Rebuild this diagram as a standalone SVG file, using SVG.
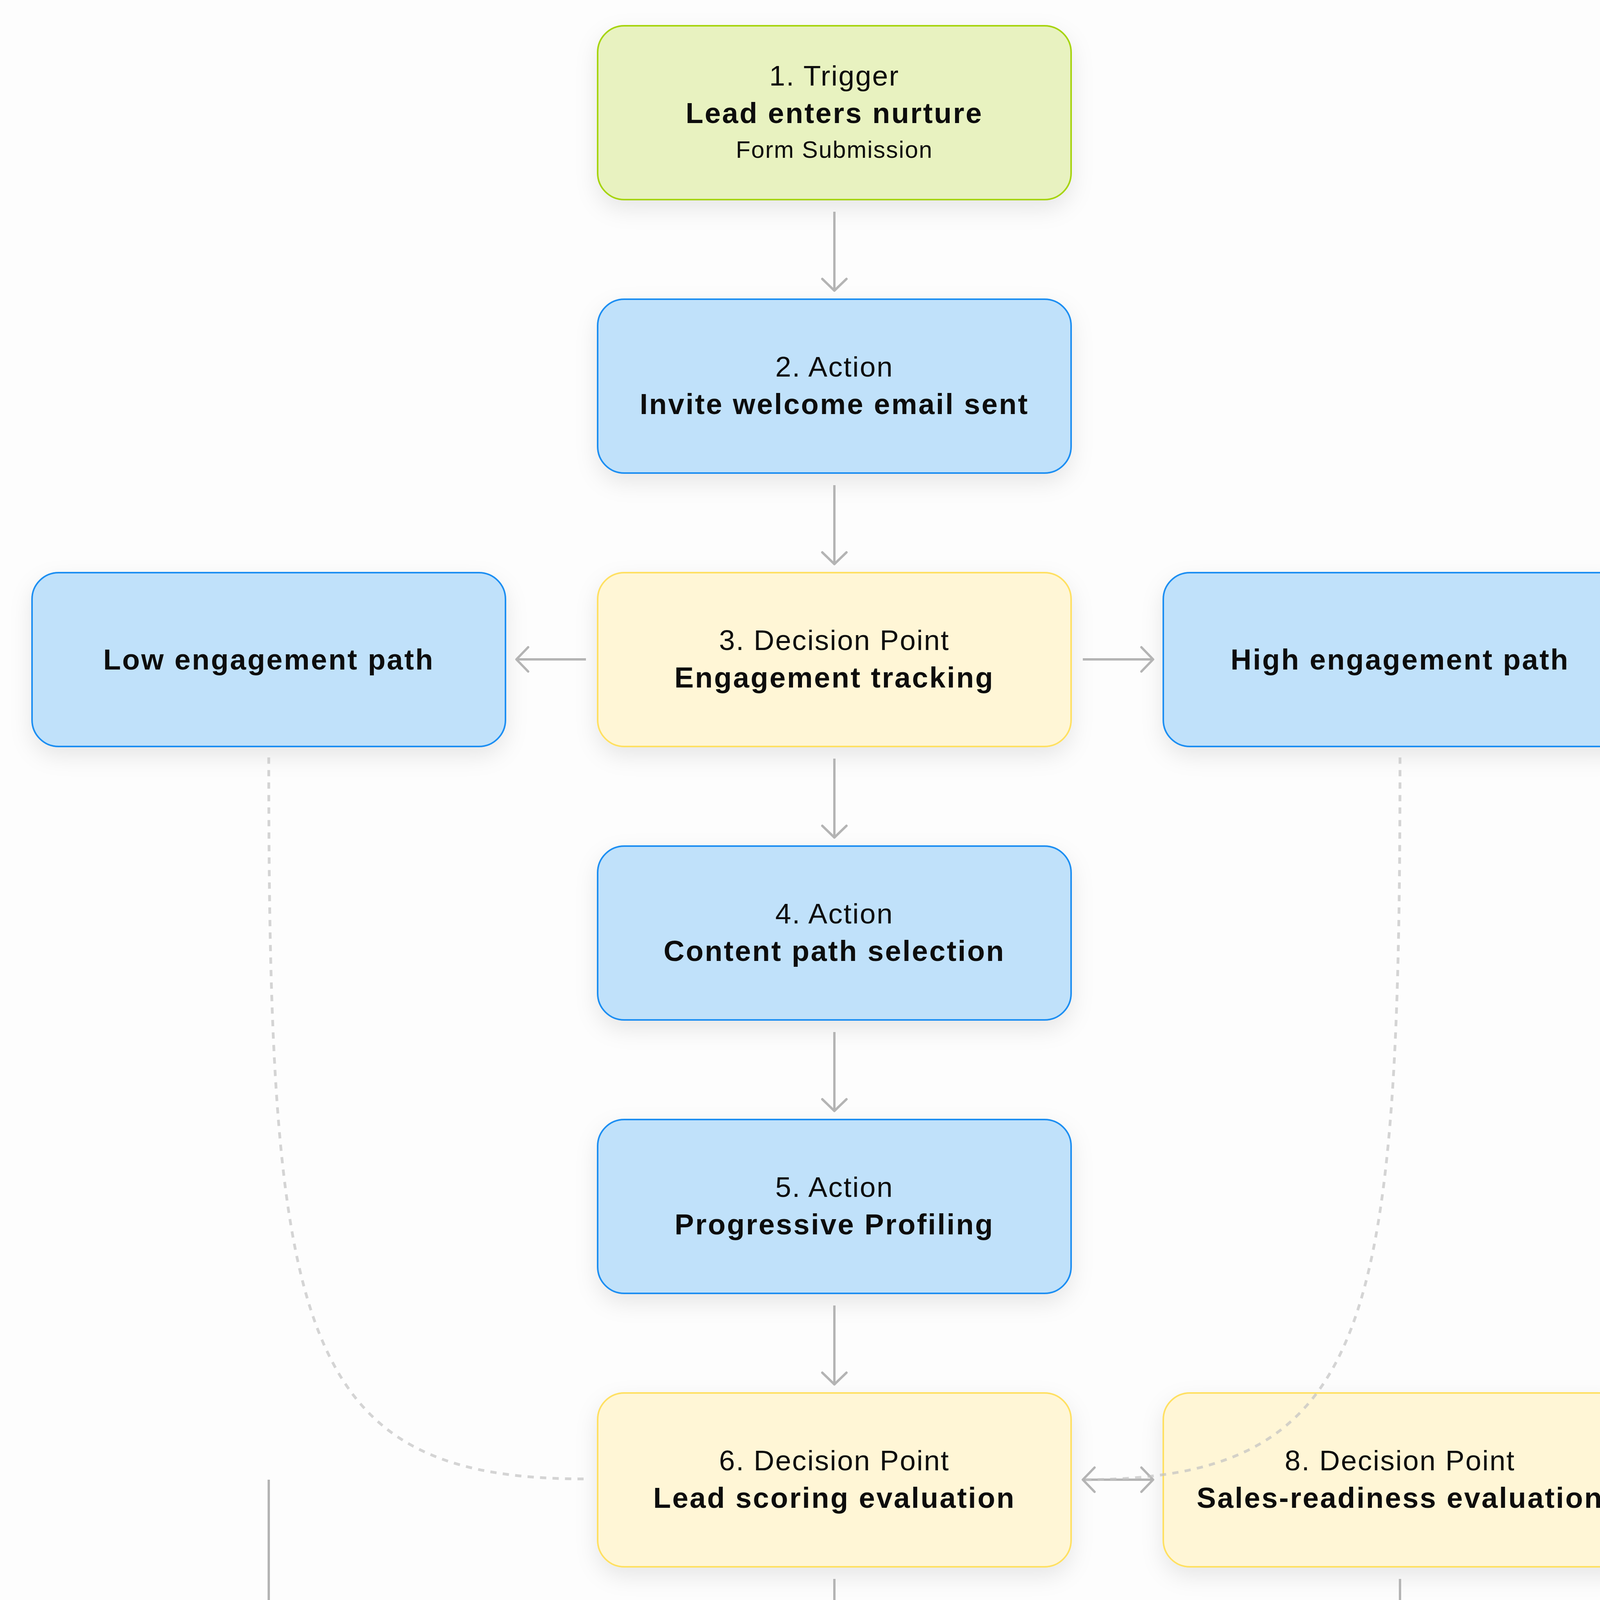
<svg xmlns="http://www.w3.org/2000/svg" width="4272" height="4808" viewBox="0 0 4272 4808">
  <defs>
    <filter id="shadow" x="-20%" y="-30%" width="140%" height="170%">
      <feDropShadow dx="0" dy="22" stdDeviation="28" flood-color="#000" flood-opacity="0.09"/>
    </filter>
    <marker id="arr" markerUnits="userSpaceOnUse" markerWidth="90" markerHeight="90" viewBox="-45 -45 90 90" refX="0" refY="0" orient="auto-start-reverse">
      <path d="M-30,-31 L0,0 L-30,31" fill="none" stroke="#B4B4B4" stroke-width="6" stroke-linecap="round" stroke-linejoin="round"/>
    </marker>
    <style>
      .box { stroke-width: 4; }
      .trigger { fill: #E8F2C0; stroke: #A6D40F; }
      .action { fill: #C0E1FA; stroke: #1C8EF2; }
      .decision { fill: #FFF6D6; stroke: #FFE062; }
      .t { font-family: "Liberation Sans", Arial, sans-serif; fill: #0D0D0D; text-anchor: middle; }
      .r { font-size: 73px; letter-spacing: 2.5px; }
      .b { font-size: 74px; font-weight: bold; letter-spacing: 3.5px; }
      .s { font-size: 61px; letter-spacing: 2px; }
      .line { fill: none; stroke: #B4B4B4; stroke-width: 6; }
      .dash { fill: none; stroke: #C2C2C2; stroke-opacity: 0.7; stroke-width: 7; stroke-dasharray: 16 16; }
    </style>
  </defs>
  <rect x="0" y="0" width="4272" height="4808" fill="#FDFDFD"/>

  <g id="nodes">
    <g id="n1">
      <rect class="box trigger" x="1530" y="66" width="1212" height="445" rx="68" filter="url(#shadow)"/>
      <text class="t r" x="2136" y="219">1. Trigger</text>
      <text class="t b" x="2136" y="315">Lead enters nurture</text>
      <text class="t s" x="2136" y="404">Form Submission</text>
    </g>
    <g id="n2">
      <rect class="box action" x="1530" y="766" width="1212" height="445" rx="68" filter="url(#shadow)"/>
      <text class="t r" x="2136" y="964">2. Action</text>
      <text class="t b" x="2136" y="1060">Invite welcome email sent</text>
    </g>
    <g id="n3">
      <rect class="box decision" x="1530" y="1466" width="1212" height="445" rx="68" filter="url(#shadow)"/>
      <text class="t r" x="2136" y="1664">3. Decision Point</text>
      <text class="t b" x="2136" y="1760">Engagement tracking</text>
    </g>
    <g id="nLow">
      <rect class="box action" x="82" y="1466" width="1212" height="445" rx="68" filter="url(#shadow)"/>
      <text class="t b" x="688" y="1714">Low engagement path</text>
    </g>
    <g id="nHigh">
      <rect class="box action" x="2978" y="1466" width="1212" height="445" rx="68" filter="url(#shadow)"/>
      <text class="t b" x="3584" y="1714">High engagement path</text>
    </g>
    <g id="n4">
      <rect class="box action" x="1530" y="2166" width="1212" height="445" rx="68" filter="url(#shadow)"/>
      <text class="t r" x="2136" y="2364">4. Action</text>
      <text class="t b" x="2136" y="2460">Content path selection</text>
    </g>
    <g id="n5">
      <rect class="box action" x="1530" y="2866" width="1212" height="445" rx="68" filter="url(#shadow)"/>
      <text class="t r" x="2136" y="3064">5. Action</text>
      <text class="t b" x="2136" y="3160">Progressive Profiling</text>
    </g>
    <g id="n6">
      <rect class="box decision" x="1530" y="3566" width="1212" height="445" rx="68" filter="url(#shadow)"/>
      <text class="t r" x="2136" y="3764">6. Decision Point</text>
      <text class="t b" x="2136" y="3860">Lead scoring evaluation</text>
    </g>
    <g id="n8">
      <rect class="box decision" x="2978" y="3566" width="1212" height="445" rx="68" filter="url(#shadow)"/>
      <text class="t r" x="3584" y="3764">8. Decision Point</text>
      <text class="t b" x="3584" y="3860">Sales-readiness evaluation</text>
    </g>
    <g id="n10">
      <rect class="box action" x="82" y="4266" width="1212" height="445" rx="68" filter="url(#shadow)"/>
      <text class="t r" x="688" y="4464">10. Action</text>
      <text class="t b" x="688" y="4560">Remain in nurture</text>
    </g>
    <g id="n7">
      <rect class="box action" x="1530" y="4266" width="1212" height="445" rx="68" filter="url(#shadow)"/>
      <text class="t r" x="2136" y="4415">7. Action</text>
      <text class="t b" x="2136" y="4513">Content delivered</text>
      <text class="t b" x="2136" y="4608">based on score</text>
    </g>
    <g id="n9">
      <rect class="box action" x="2978" y="4266" width="1212" height="445" rx="68" filter="url(#shadow)"/>
      <text class="t r" x="3584" y="4419">9. Action</text>
      <text class="t b" x="3584" y="4515">Lead passed to sales</text>
      <text class="t s" x="3584" y="4604">CRM</text>
    </g>
  </g>

  <g id="connectors">
    <path class="line" d="M2136,542 L2136,744" marker-end="url(#arr)"/>
    <path class="line" d="M2136,1242 L2136,1444" marker-end="url(#arr)"/>
    <path class="line" d="M2136,1942 L2136,2144" marker-end="url(#arr)"/>
    <path class="line" d="M2136,2642 L2136,2844" marker-end="url(#arr)"/>
    <path class="line" d="M2136,3342 L2136,3544" marker-end="url(#arr)"/>
    <path class="line" d="M2136,4042 L2136,4244" marker-end="url(#arr)"/>
    <path class="line" d="M3584,4042 L3584,4244" marker-end="url(#arr)"/>
    <path class="line" d="M688,3788 L688,4244" marker-end="url(#arr)"/>
    <path class="line" d="M1500,1688 L1322,1688" marker-end="url(#arr)"/>
    <path class="line" d="M2772,1688 L2952,1688" marker-end="url(#arr)"/>
    <path class="line" d="M2772,3788 L2952,3788" marker-start="url(#arr)" marker-end="url(#arr)"/>
    <path class="dash" d="M688,1939 C688,3400 761,3786 1494,3786"/>
    <path class="dash" d="M3584,1939 C3584,3400 3511,3788 2772,3788"/>
  </g>
</svg>
